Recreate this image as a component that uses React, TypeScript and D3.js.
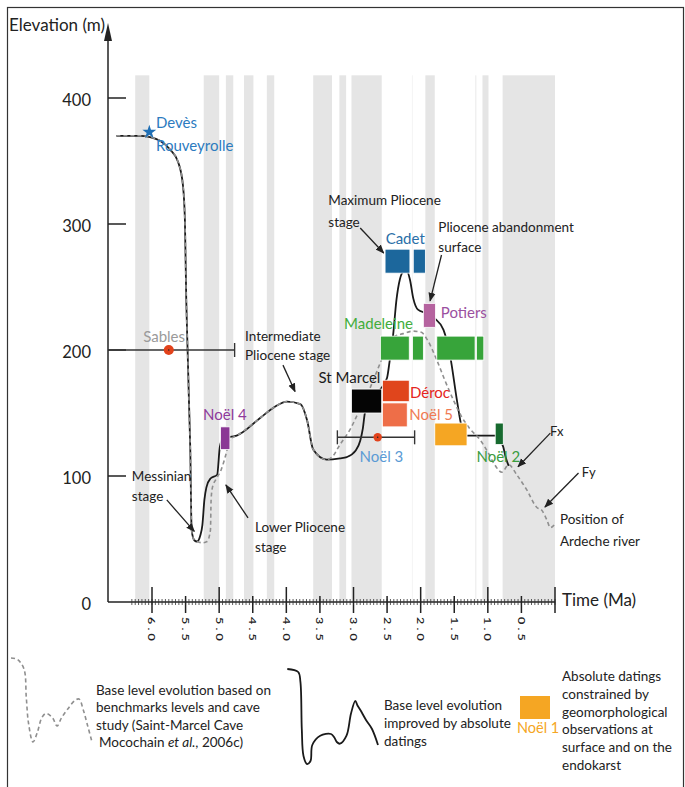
import * as d3 from 'd3';

const W = 685;
const H = 787;
const FONT = 'Lato, "Open Sans", sans-serif';

// axis ticks
const yTicks = [0, 100, 200, 300, 400];
const xMajorTicks = [6.0, 5.5, 5.0, 4.5, 4.0, 3.5, 3.0, 2.5, 2.0, 1.5, 1.0, 0.5];
const xTickLabels = ['6.0', '5.5', '5.0', '4.5', '4.0', '3.5', '3.0', '2.5', '2.0', '1.5', '1.0', '0.5'];

// grey periods (Ma, start -> end)
const grayBands: [number, number][] = [
  [6.25, 6.04], [5.23, 5.0], [4.9, 4.79], [4.63, 4.49], [4.29, 4.18],
  [3.6, 3.32], [3.21, 3.11], [3.03, 2.58], [2.13, 2.12], [1.93, 1.79],
  [1.19, 1.17], [1.08, 0.99], [0.78, 0.0],
];

// base level improved by absolute datings (time Ma, elevation m)
const solidCurve: [number, number][] = [
  [6.53, 370], [6.18, 370], [6.03, 369], [5.88, 366], [5.73, 359], [5.61, 349],
  [5.54, 331], [5.51, 303], [5.49, 240], [5.47, 200], [5.45, 160], [5.43, 121],
  [5.41, 57], [5.37, 49], [5.33, 48], [5.28, 53], [5.25, 61], [5.22, 81],
  [5.19, 91], [5.13, 98], [5.03, 101], [4.99, 123], [4.94, 130], [4.74, 132],
  [4.39, 146], [4.17, 155], [3.99, 159], [3.79, 157], [3.69, 144], [3.6, 121],
  [3.4, 113], [3.2, 114], [3.1, 115], [2.97, 120], [2.9, 128], [2.86, 138],
  [2.83, 150], [2.73, 160], [2.61, 168], [2.5, 178], [2.46, 192], [2.41, 212],
  [2.36, 240], [2.31, 256], [2.26, 262], [2.21, 263], [2.16, 256], [2.11, 241],
  [2.04, 232], [1.91, 229], [1.79, 225], [1.66, 216], [1.56, 195], [1.46, 160],
  [1.39, 139], [1.32, 132], [0.89, 132], [0.82, 129], [0.77, 123], [0.73, 114],
  [0.69, 108],
];

// base level from benchmark levels and cave study
const dashedCurve: [number, number][] = [
  [6.53, 370], [6.18, 370], [6.03, 369], [5.88, 366], [5.73, 359], [5.61, 349],
  [5.54, 331], [5.51, 303], [5.49, 240], [5.47, 200], [5.45, 160], [5.43, 121],
  [5.41, 57], [5.37, 49], [5.33, 48], [5.25, 47], [5.18, 48], [5.13, 57],
  [5.12, 81], [5.1, 91], [5.04, 98], [4.97, 105], [4.9, 117], [4.84, 129],
  [4.74, 132], [4.39, 146], [4.17, 155], [3.99, 159], [3.79, 157], [3.69, 144],
  [3.6, 121], [3.4, 113], [3.32, 115], [3.2, 125], [3.05, 137], [2.93, 150],
  [2.81, 163], [2.69, 178], [2.6, 190], [2.51, 202], [2.41, 210], [2.26, 213],
  [2.11, 215], [1.99, 214], [1.9, 208], [1.76, 192], [1.64, 176], [1.51, 160],
  [1.4, 148], [1.26, 137], [1.12, 129], [1.0, 119], [0.91, 110], [0.79, 103],
  [0.69, 109], [0.57, 101], [0.42, 89], [0.27, 75], [0.2, 73], [0.12, 65],
  [0.07, 59], [0.0, 62],
];

// dated boxes: [t start, t end, m low, m high]
const cadetBoxes: [number, number, number, number][] = [[2.53, 2.16, 261, 280], [2.11, 1.93, 261, 280]];
const potiersBoxes: [number, number, number, number][] = [[1.96, 1.78, 218, 237]];
const madeleineBoxes: [number, number, number, number][] = [
  [2.6, 2.17, 192, 211], [2.12, 1.96, 192, 211], [1.76, 1.19, 192, 211], [1.17, 1.06, 192, 211],
];
const stMarcelBoxes: [number, number, number, number][] = [[3.03, 2.58, 150, 169]];
const derocBoxes: [number, number, number, number][] = [[2.57, 2.17, 159, 176]];
const noel5Boxes: [number, number, number, number][] = [[2.57, 2.2, 139, 158]];
const noel4Boxes: [number, number, number, number][] = [[4.98, 4.84, 121, 139]];
const noel1Boxes: [number, number, number, number][] = [[1.79, 1.31, 124, 142]];
const noel2Boxes: [number, number, number, number][] = [[0.89, 0.77, 125, 142]];

const boxGroups = [
  { boxes: cadetBoxes, color: '#1c679c' },
  { boxes: potiersBoxes, color: '#b5639f' },
  { boxes: madeleineBoxes, color: '#37a43a' },
  { boxes: stMarcelBoxes, color: '#050505' },
  { boxes: derocBoxes, color: '#e0451c' },
  { boxes: noel5Boxes, color: '#ee6e48' },
  { boxes: noel4Boxes, color: '#8b3895' },
  { boxes: noel1Boxes, color: '#f5a623' },
  { boxes: noel2Boxes, color: '#176a2f' },
];

// dated points with error bars: [t from, t to, t dot, m]
const sablesBar = [6.63, 4.77, 5.75, 200];
const noel3Bar = [3.24, 2.09, 2.64, 130.7];

// coloured site labels: [text, t, m, anchor, colour]
const siteLabels: [string, number, number, string, string][] = [
  ['Sables', 5.82, 206, 'middle', '#9a9a9a'],
  ['Devès', 5.94, 376, 'start', '#2c7bbf'],
  ['Rouveyrolle', 5.94, 358, 'start', '#2c7bbf'],
  ['Noël 4', 5.24, 144.4, 'start', '#8e3a9b'],
  ['Cadet', 2.23, 284, 'middle', '#2a6fa8'],
  ['Potiers', 1.7, 225.4, 'start', '#9b50a0'],
  ['Madeleine', 3.14, 216.7, 'start', '#42ad3b'],
  ['St Marcel', 3.52, 173.8, 'start', '#1a1a1a'],
  ['Déroc', 2.16, 162, 'start', '#e52420'],
  ['Noël 5', 2.17, 144.4, 'start', '#f07a52'],
  ['Noël 3', 2.91, 111, 'start', '#5a9bd5'],
  ['Noël 2', 1.17, 111, 'start', '#3a9c3e'],
];

// annotations: [text, t, m]
const noteLabels: [string, number, number][] = [
  ['Maximum Pliocene', 3.375, 315], ['stage', 3.375, 297.6],
  ['Pliocene abandonment', 1.737, 293.7], ['surface', 1.737, 277.8],
  ['Intermediate', 4.615, 207.1], ['Pliocene stage', 4.615, 192.1],
  ['Messinian', 6.3, 96], ['stage', 6.3, 80.2],
  ['Lower Pliocene', 4.466, 55.6], ['stage', 4.466, 39.7],
  ['Fx', 0.074, 131.7], ['Fy', -0.4, 99.2],
  ['Position of', -0.074, 61.9], ['Ardeche river', -0.074, 44.4],
];

// arrows: [t from, m from, t to, m to]
const arrows: [number, number, number, number][] = [
  [2.9, 296.8, 2.55, 277],
  [1.69, 275.4, 1.86, 239],
  [4.05, 188, 3.87, 167],
  [5.78, 81, 5.37, 56],
  [4.57, 66.7, 4.9, 92.9],
  [0.07, 134, 0.55, 107.4],
  [-0.35, 102.4, 0.15, 75.4],
];

const devesStar = [6.04, 373];

// legend glyphs (pixel space)
const legendDashed: [number, number][] = [
  [11, 658], [17.5, 659.5], [24, 669], [26.3, 697.6], [28.5, 723], [33, 742], [37.3, 732.5],
  [41.7, 718], [46, 713.5], [52.6, 718], [57, 726], [61.4, 718], [68, 708.7], [74.6, 700.8],
  [79, 699], [83.3, 710], [87.7, 726], [92, 742],
];
const legendSolid: [number, number][] = [
  [287.3, 669], [298.2, 672], [300.4, 681.7], [301.8, 729], [303.5, 756], [307, 764],
  [310.5, 761], [312.3, 745], [320.2, 735.7], [331, 734], [334.2, 737.3], [336.8, 742],
  [340, 743.7], [346.5, 735.7], [351, 713.5], [355.3, 700.8], [357.5, 705.5], [360.5, 710.3],
  [366, 720], [372, 729], [378, 745],
];
const legendText1 = ['Base level evolution based on', 'benchmarks levels and cave', 'study (Saint-Marcel Cave'];
const legendText2 = ['Base level evolution', 'improved by absolute', 'datings'];
const legendText3 = ['Absolute datings', 'constrained by', 'geomorphological', 'observations at', 'surface and on the', 'endokarst'];

export default function App() {
  const x = d3.scaleLinear().domain([6, 0]).range([152, 555]);
  const y = d3.scaleLinear().domain([0, 400]).range([602, 98]);

  const line = d3.line<[number, number]>()
    .x(d => x(d[0]))
    .y(d => y(d[1]))
    .curve(d3.curveMonotoneX);
  const pxLine = d3.line<[number, number]>()
    .x(d => d[0])
    .y(d => d[1])
    .curve(d3.curveCatmullRom.alpha(0.5));

  const minorTicks = d3.range(0, 127).map(i => +(i * 0.05).toFixed(2));
  const star = d3.symbol(d3.symbolStar, 60)();

  return (
    <svg width={W} height={H} style={{ position: 'absolute', left: 0, top: 0, background: '#fff' }}
      fontFamily={FONT}>
      <defs>
        <marker id="arr" viewBox="0 0 10 10" refX="9" refY="5" markerWidth="9" markerHeight="9"
          orient="auto" markerUnits="userSpaceOnUse">
          <path d="M0,1 L10,5 L0,9 z" fill="#222" />
        </marker>
      </defs>

      {/* frame */}
      <rect x={7.5} y={7.5} width={676} height={800} fill="none" stroke="#333" strokeWidth={1.2} />

      {/* grey bands */}
      {grayBands.map(([a, b], i) => (
        <rect key={i} x={x(a)} y={y(418)} width={x(b) - x(a)} height={y(0) - y(418)}
          fill={x(b) - x(a) < 3 ? '#efefef' : '#e5e5e5'} />
      ))}

      {/* y axis */}
      <line x1={108} x2={108} y1={602} y2={32} stroke="#222" strokeWidth={1.5} />
      <path d="M108,23 L104,41 L112,41 Z" fill="#222" />
      {yTicks.map(v => (
        <g key={v}>
          {v > 0 && <line x1={108} x2={126} y1={y(v)} y2={y(v)} stroke="#222" strokeWidth={1.5} />}
          <text x={91} y={y(v) + 2} dy="0.35em" textAnchor="end" fontSize={16.5} fill="#222">{v}</text>
        </g>
      ))}
      <text x={9} y={31} fontSize={17} fill="#222">Elevation (m)</text>

      {/* x axis */}
      <line x1={108} x2={x(0)} y1={602} y2={602} stroke="#222" strokeWidth={1.6} />
      {minorTicks.map(t => (
        <line key={t} x1={x(t)} x2={x(t)} y1={599} y2={605} stroke="#333" strokeWidth={0.8} />
      ))}
      {[...xMajorTicks, 0].map(t => (
        <line key={'M' + t} x1={x(t)} x2={x(t)} y1={Number.isInteger(t) ? 587 : 596} y2={613}
          stroke="#222" strokeWidth={1.5} />
      ))}
      {xMajorTicks.map((t, i) => (
        <text key={'L' + t} transform={`translate(${x(t)},617) rotate(90) scale(1,0.8)`} dy="0.35em"
          fontSize={12.5} letterSpacing={3.2} fontWeight={600} fill="#222">{xTickLabels[i]}</text>
      ))}
      <text x={562} y={606} fontSize={17} fill="#222">Time (Ma)</text>

      {/* curves */}
      <path d={line(solidCurve) ?? ''} fill="none" stroke="#1a1a1a" strokeWidth={1.8} />
      <path d={line(dashedCurve) ?? ''} fill="none" stroke="#8f8f8f" strokeWidth={1.6} strokeDasharray="4,3" />

      {/* error bars */}
      {[sablesBar, noel3Bar].map((b, i) => (
        <g key={i} stroke="#333" strokeWidth={1.4}>
          <line x1={i === 0 ? 108 : x(b[0])} x2={x(b[1])} y1={y(b[3])} y2={y(b[3])} />
          {i === 1 && <line x1={x(b[0])} x2={x(b[0])} y1={y(b[3]) - 7} y2={y(b[3]) + 7} />}
          <line x1={x(b[1])} x2={x(b[1])} y1={y(b[3]) - 7} y2={y(b[3]) + 7} />
          <circle cx={x(b[2])} cy={y(b[3])} r={i === 0 ? 5 : 4.2} fill="#e2421b" stroke="none" />
          <circle cx={x(b[2])} cy={y(b[3])} r={0.8} fill="#222" stroke="none" />
        </g>
      ))}

      {/* dated boxes */}
      {boxGroups.map((g, gi) => g.boxes.map((b, i) => (
        <rect key={gi + '-' + i} x={x(b[0])} y={y(b[3])} width={x(b[1]) - x(b[0])} height={y(b[2]) - y(b[3])}
          fill={g.color} stroke="#fff" strokeWidth={0.8} />
      )))}

      {/* star */}
      <path d={star ?? ''} transform={`translate(${x(devesStar[0])},${y(devesStar[1])})`} fill="#1f6fb5" />

      {/* site labels */}
      {siteLabels.map(([txt, t, m, anchor, color], i) => (
        <text key={i} x={x(t)} y={y(m)} textAnchor={anchor} fontSize={15} fill={color}>{txt}</text>
      ))}

      {/* annotations */}
      {noteLabels.map(([txt, t, m], i) => (
        <text key={i} x={x(t)} y={y(m)} fontSize={txt.startsWith('F') && txt.length === 2 ? 13 : 13.5} fill="#222">{txt}</text>
      ))}
      {arrows.map((a, i) => (
        <line key={i} x1={x(a[0])} y1={y(a[1])} x2={x(a[2])} y2={y(a[3])} stroke="#222" strokeWidth={1.3}
          markerEnd="url(#arr)" />
      ))}

      {/* legend */}
      <path d={pxLine(legendDashed) ?? ''} fill="none" stroke="#8f8f8f" strokeWidth={1.6} strokeDasharray="4,3" />
      {legendText1.map((s, i) => (
        <text key={i} x={96} y={695 + i * 17.3} fontSize={13.5} fill="#222">{s}</text>
      ))}
      <text x={99} y={747} fontSize={13.5} fill="#222">Mocochain <tspan fontStyle="italic">et al.</tspan>, 2006c)</text>

      <path d={pxLine(legendSolid) ?? ''} fill="none" stroke="#1a1a1a" strokeWidth={1.8} />
      {legendText2.map((s, i) => (
        <text key={i} x={384} y={710 + i * 18} fontSize={13.5} fill="#222">{s}</text>
      ))}

      <rect x={520} y={696} width={30} height={23} fill="#f5a623" />
      <text x={517} y={733} fontSize={14.5} fill="#f5a623">Noël 1</text>
      {legendText3.map((s, i) => (
        <text key={i} x={562} y={681 + i * 17.8} fontSize={13.5} fill="#222">{s}</text>
      ))}
    </svg>
  );
}
